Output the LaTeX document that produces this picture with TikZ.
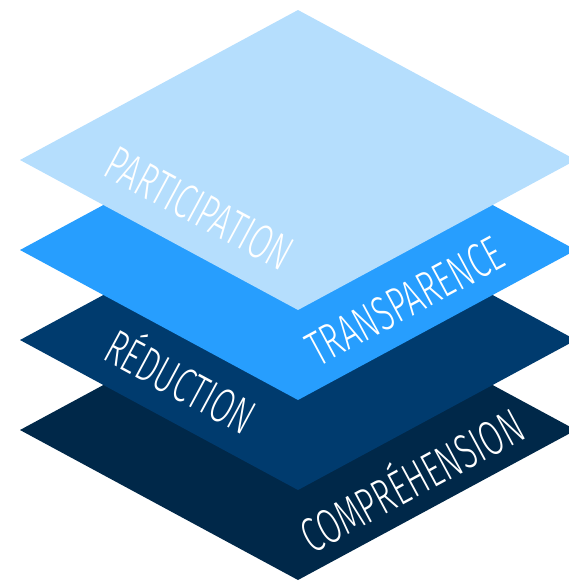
\documentclass[tikz,border=0pt]{standalone}
\usepackage{fontspec}
\setmainfont{Fira Sans}[UprightFont=* Light, FakeStretch=0.65]
\definecolor{layerA}{HTML}{B5DEFD}
\definecolor{layerB}{HTML}{279EFE}
\definecolor{layerC}{HTML}{003B6E}
\definecolor{layerD}{HTML}{002849}
\begin{document}
\begin{tikzpicture}[x=1pt,y=-1pt,
  layertext/.style={text=white, inner sep=0pt, anchor=base, font=\fontsize{49}{49}\selectfont}]
\useasboundingbox (0,0) rectangle (569,581);
\clip (0,0) rectangle (569,581);
% layers, bottom first
\foreach \cy/\col in {430/layerD, 340/layerC, 250/layerB, 160/layerA}
  \fill[\col] (20,\cy) -- (298,{\cy-150}) -- (576,\cy) -- (298,{\cy+150}) -- cycle;
% labels
\node[layertext, rotate=-28.35] (participation) at (191.4,223.3) {PARTICIPATION};
\node[layertext, rotate=28.35] (transparence) at (413,316) {TRANSPARENCE};
\node[layertext, rotate=-28.35] (reduction) at (172.4,397.3) {RÉDUCTION};
\node[layertext, rotate=28.35] (comprehension) at (420,496) {COMPRÉHENSION};
\end{tikzpicture}
\end{document}
